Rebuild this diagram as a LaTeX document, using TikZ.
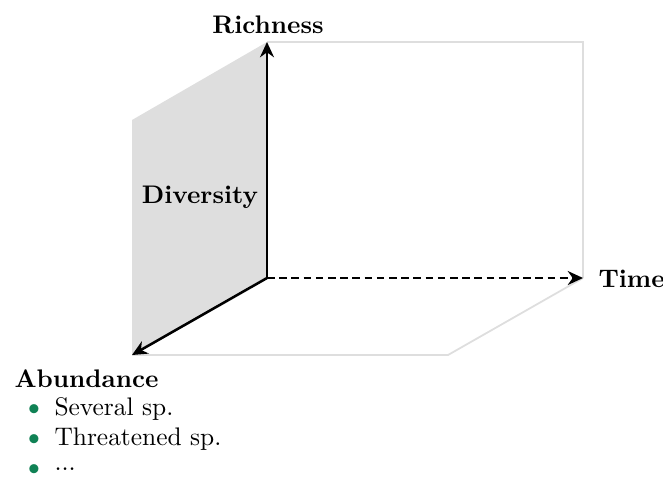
\documentclass[tikz,border=0pt]{standalone}
\usetikzlibrary{arrows.meta}
\definecolor{facegray}{RGB}{222,222,222}
\definecolor{edgegray}{RGB}{222,222,222}
\definecolor{bulletgreen}{RGB}{16,130,85}
\begin{document}
\begin{tikzpicture}[x=0.01383cm,y=-0.01383cm,
  axis/.style={line width=1pt,-{Stealth[length=6pt,width=5.5pt]}},
  ghost/.style={draw=edgegray,line width=0.7pt},
  lbl/.style={font=\bfseries,inner sep=0pt},
  itm/.style={anchor=west,inner sep=0pt},
  bul/.style={text=bulletgreen,inner sep=0pt,scale=1.25}]
\useasboundingbox (0,0) rectangle (663,484);
\coordinate (O) at (267,278);
\coordinate (R) at (267,42);
\coordinate (A) at (132,355);
\coordinate (T) at (583,278);
\coordinate (RB) at (132,120);
\coordinate (TR) at (583,42);
\coordinate (FB) at (448,355);
% gray face
\fill[facegray] (A) -- (RB) -- (R) -- (O) -- cycle;
% ghost edges
\draw[ghost] (R) -- (TR) -- (T);
\draw[ghost] (A) -- (FB) -- (T);
% axes
\draw[axis] (O) -- (R);
\draw[axis] (O) -- (A);
\draw[axis,dash pattern=on 3pt off 1.8pt] (O) -- (T);
% labels
\node[lbl] (rich) at (268,25) {Richness};
\node[lbl] (div) at (200,197) {Diversity};
\node[lbl,anchor=west] (time) at (598,279) {Time};
\node[lbl,anchor=west] (abund) at (14,379) {Abundance};
\node[bul] (b1) at (34,411) {\textbullet};
\node[bul] (b2) at (34,441) {\textbullet};
\node[bul] (b3) at (34,471) {\textbullet};
\node[itm] (i1) at (54,409) {Several sp.};
\node[itm] (i2) at (54,439) {Threatened sp.};
\node[itm] (i3) at (54,469) {...};
\end{tikzpicture}
\end{document}
